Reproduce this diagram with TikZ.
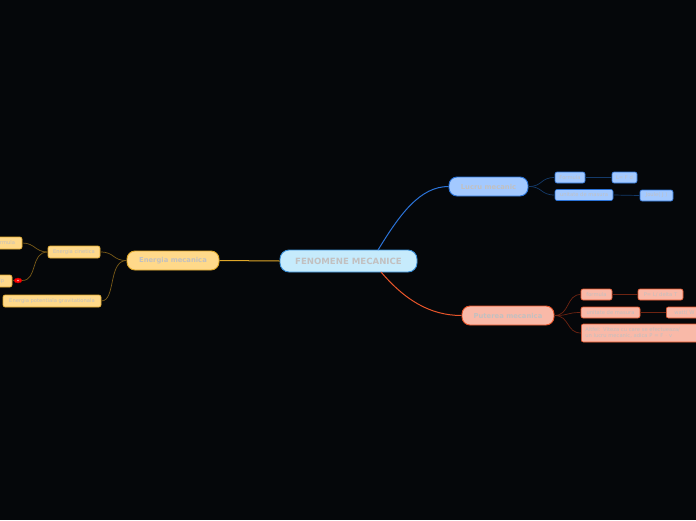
\documentclass[tikz,border=0pt]{standalone}
\usepackage{fontspec}
\setmainfont{DejaVu Sans}
\usetikzlibrary{calc,shapes.geometric}
\definecolor{bg}{HTML}{05070A}
\definecolor{txt}{HTML}{C2C0C0}
\definecolor{cfill}{HTML}{C6EBFC}
\definecolor{cline}{HTML}{3A8FD8}
\definecolor{bfill}{HTML}{A3C9FF}
\definecolor{bline}{HTML}{2B73D8}
\definecolor{bsub}{HTML}{143A6A}
\definecolor{rfill}{HTML}{F9B9A8}
\definecolor{rline}{HTML}{E8552A}
\definecolor{rsub}{HTML}{6E2412}
\definecolor{yfill}{HTML}{FFD98A}
\definecolor{yline}{HTML}{E0A82A}
\definecolor{ysub}{HTML}{7A5A18}
\tikzset{
  box/.style={draw, rounded corners=2pt, inner sep=0pt, text=txt, font=\fontsize{5.2}{6.2}\selectfont, line width=0.6pt},
  mainbox/.style={draw, rounded corners=8pt, inner sep=0pt, text=txt, font=\bfseries\fontsize{6.8}{8}\selectfont, line width=0.9pt},
  bluebox/.style={box, fill=bfill, draw=bline},
  redbox/.style={box, fill=rfill, draw=rline},
  yelbox/.style={box, fill=yfill, draw=yline},
  conn/.style={line width=0.7pt},
}
\begin{document}
\begin{tikzpicture}[x=1pt,y=-1pt]
\fill[bg] (0,0) rectangle (696,520);
\useasboundingbox (0,0) rectangle (696,520);

% central
\node[draw=cline, fill=cfill, rounded corners=9pt, inner sep=0pt, line width=0.9pt,
  minimum width=137pt, minimum height=22pt, text=txt, font=\bfseries\fontsize{8.6}{10}\selectfont]
  (c) at (348.5,261) {FENOMENE MECANICE};

% main branches
\node[mainbox, fill=bfill, draw=bline, minimum width=79pt, minimum height=19pt] (lm) at (488.5,186.5) {Lucru mecanic};
\node[mainbox, fill=rfill, draw=rline, minimum width=92pt, minimum height=19pt] (pm) at (508,315.5) {Puterea mecanica};
\node[mainbox, fill=yfill, draw=yline, minimum width=92pt, minimum height=19pt] (em) at (173,260.5) {Energia mecanica};

% blue children
\node[bluebox, minimum width=30pt, minimum height=11pt] (bf) at (570,177.5) {Formula};
\node[bluebox, minimum width=25pt, minimum height=11pt] (bl) at (624.5,177.5) {L= F d};
\node[bluebox, minimum width=58pt, minimum height=11pt] (bu) at (584,195) {unitate de masura};
\node[bluebox, minimum width=33pt, minimum height=11pt] (bj) at (656.5,195.5) {Joule( J )};

% red children
\node[redbox, minimum width=31pt, minimum height=11pt] (rf) at (596.5,294.5) {formula};
\node[redbox, minimum width=45pt, minimum height=11pt] (rp) at (660.5,294.5) {P= L/ delta T};
\node[redbox, minimum width=59pt, minimum height=11pt] (ru) at (610.5,312.5) {unitate de masura};
\node[redbox, minimum width=40pt, minimum height=11pt, anchor=west] (rw) at (666,312.5) {watt( W )};
\node[redbox, minimum width=150pt, minimum height=18pt, anchor=west, align=left, text width=146pt]
  (ra) at (581,333) {\hspace*{2pt}Altfel: Viteza cu care se efectueaza/\\\hspace*{2pt}un lucru mecanic, adica P = F $\cdot$ v};

% yellow children
\node[yelbox, minimum width=52pt, minimum height=12pt] (ec) at (74,252) {Energia cinetica};
\node[yelbox, minimum width=98pt, minimum height=12pt] (ep) at (52,301) {Energia potentiala gravitationala};
\node[yelbox, minimum width=34pt, minimum height=12pt] (yf) at (5,243) {formula};
\node[yelbox, minimum width=22pt, minimum height=12pt] (ye) at (1,281) {Ep};
\node[draw=red!70!black, fill=red, ellipse, inner sep=0pt, minimum width=8pt, minimum height=5pt] (rd) at (18,280.5) {};
\fill[white!70!red] (rd.center) circle (0.8pt);

% connectors main
\coordinate (c1) at (378,250);
\coordinate (c2) at (381,272);
\draw[conn, draw=bline, line width=1pt] (c1) .. controls (400,214) and (420,186.5) .. (lm.west);
\draw[conn, draw=rline, line width=1pt] (c2) .. controls (405,300) and (430,315.5) .. (pm.west);
\draw[conn, draw=yline, line width=1pt] (c.west) -- (em.east);

% blue subs
\draw[conn, draw=bsub] (lm.east) .. controls (543,186.5) and (540,177.5) .. (bf.west);
\draw[conn, draw=bsub] (lm.east) .. controls (543,186.5) and (540,195) .. (bu.west);
\draw[conn, draw=bsub] (bf.east) -- (bl.west);
\draw[conn, draw=bsub] (bu.east) -- (bj.west);

% red subs
\draw[conn, draw=rsub] (pm.east) .. controls (570,315.5) and (566,294.5) .. (rf.west);
\draw[conn, draw=rsub] (pm.east) .. controls (570,315.5) and (566,312.5) .. (ru.west);
\draw[conn, draw=rsub] (pm.east) .. controls (570,315.5) and (566,333) .. (ra.west);
\draw[conn, draw=rsub] (rf.east) -- (rp.west);
\draw[conn, draw=rsub] (ru.east) -- (rw.west);

% yellow subs
\draw[conn, draw=ysub] (em.west) .. controls (112,260.5) and (115,252) .. (ec.east);
\draw[conn, draw=ysub] (em.west) .. controls (108,260.5) and (116,301) .. (ep.east);
\draw[conn, draw=ysub] (ec.west) .. controls (35,252) and (35,243) .. (yf.east);
\draw[conn, draw=ysub] (ec.west) .. controls (30,252) and (38,280.5) .. (rd.east);
\draw[conn, draw=ysub] (rd.west) -- (ye.east);
\end{tikzpicture}
\end{document}
